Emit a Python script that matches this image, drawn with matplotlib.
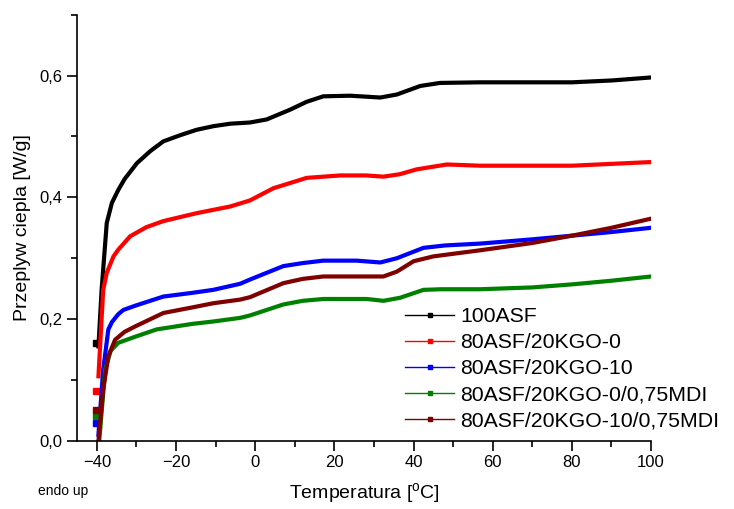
import matplotlib.pyplot as plt
from matplotlib.ticker import MultipleLocator, FuncFormatter

plt.rcParams["font.family"] = ["Liberation Sans", "DejaVu Sans"]

# DSC curves (temperature in degC, heat flow in W/g)
t_asf = [-40.2, -39.6, -38.8, -37.5, -36.2, -34.6, -33.0, -29.9, -26.5, -23.2, -19, -14.8, -10.5, -6.3, -1.3, 2.9, 8.8, 13, 17.2, 24, 31.6, 35.8, 41.7, 46.7, 56.8, 70, 80, 90, 100]
y_asf = [0.161, 0.155, 0.248, 0.358, 0.391, 0.412, 0.43, 0.456, 0.476, 0.492, 0.502, 0.511, 0.517, 0.521, 0.523, 0.528, 0.544, 0.557, 0.566, 0.567, 0.564, 0.569, 0.583, 0.588, 0.589, 0.589, 0.589, 0.592, 0.597]

t_kgo0 = [-40.2, -39.6, -38.4, -37.5, -35.8, -34.6, -31.6, -27.5, -23.2, -14.8, -6.3, -1.3, 4.6, 13, 21.5, 28, 32.4, 36.5, 40.8, 48.4, 56.8, 70, 80, 90, 100]
y_kgo0 = [0.081, 0.106, 0.248, 0.276, 0.303, 0.314, 0.336, 0.351, 0.361, 0.374, 0.385, 0.395, 0.415, 0.432, 0.436, 0.436, 0.434, 0.438, 0.446, 0.454, 0.452, 0.452, 0.452, 0.455, 0.458]

t_kgo10 = [-40.2, -39.6, -38.4, -37.1, -36.2, -34.6, -33.3, -30.3, -23.2, -16, -10.6, -3.8, -1.3, 7.1, 12, 17.2, 25.6, 31.6, 35.8, 42.5, 48, 56.8, 70, 80, 90, 100]
y_kgo10 = [0.029, 0.01, 0.117, 0.183, 0.195, 0.208, 0.215, 0.222, 0.237, 0.243, 0.248, 0.258, 0.265, 0.287, 0.292, 0.296, 0.296, 0.293, 0.300, 0.317, 0.321, 0.324, 0.331, 0.337, 0.343, 0.35]

t_kgo0_mdi = [-40.2, -39.4, -37.9, -36.5, -34.6, -30.3, -24.9, -16, -10.6, -3.8, -1.3, 7.1, 12, 17.2, 28.2, 32.4, 36.6, 42.5, 47, 56.8, 70, 80, 90, 100]
y_kgo0_mdi = [0.04, 0.0, 0.117, 0.148, 0.161, 0.171, 0.183, 0.192, 0.196, 0.202, 0.206, 0.224, 0.23, 0.233, 0.233, 0.230, 0.235, 0.248, 0.249, 0.249, 0.252, 0.257, 0.263, 0.27]

t_kgo10_mdi = [-40.2, -39.6, -38.4, -37.1, -35.4, -33, -30.3, -23.2, -16, -10.6, -3.8, -1.3, 7.1, 12, 17.2, 32.4, 35.8, 40, 45, 56.8, 70, 80, 90, 100]
y_kgo10_mdi = [0.051, 0.0, 0.084, 0.139, 0.166, 0.179, 0.188, 0.210, 0.219, 0.226, 0.232, 0.236, 0.259, 0.266, 0.270, 0.270, 0.278, 0.295, 0.303, 0.313, 0.325, 0.337, 0.35, 0.365]

labels = ["100ASF", "80ASF/20KGO-0", "80ASF/20KGO-10",
          "80ASF/20KGO-0/0,75MDI", "80ASF/20KGO-10/0,75MDI"]
series = [(t_asf, y_asf), (t_kgo0, y_kgo0), (t_kgo10, y_kgo10),
          (t_kgo0_mdi, y_kgo0_mdi), (t_kgo10_mdi, y_kgo10_mdi)]
colors = ["black", "red", "blue", "green", "#800000"]

fig = plt.figure(figsize=(7.34, 5.09), dpi=100)
ax = fig.add_axes([0.105, 0.134, 0.782, 0.837])

for (t, y), c, lab in zip(series, colors, labels):
    ax.plot(t[1:], y[1:], color=c, lw=3.0, solid_joinstyle="round")
    ax.plot(t[:1], y[:1], "s", color=c, ms=5)
    # legend proxy: thin line with small marker
    ax.plot([], [], color=c, lw=1.0, marker="s", ms=2.2, label=lab)

ax.set_xlim(-45, 100)
ax.set_ylim(0, 0.7)
ax.xaxis.set_major_locator(MultipleLocator(20))
ax.xaxis.set_minor_locator(MultipleLocator(10))
ax.yaxis.set_major_locator(MultipleLocator(0.2))
ax.yaxis.set_minor_locator(MultipleLocator(0.1))
ax.yaxis.set_major_formatter(FuncFormatter(lambda v, p: f"{v:.1f}".replace(".", ",")))
ax.tick_params(which="both", direction="out", width=1.2, labelsize=12)
ax.tick_params(which="major", length=7)
ax.tick_params(which="minor", length=4)
for s in ["top", "right"]:
    ax.spines[s].set_visible(False)
for s in ["left", "bottom"]:
    ax.spines[s].set_linewidth(1.2)

ax.set_xlabel("Temperatura [$^{\\mathregular{o}}$C]", fontsize=14, labelpad=8)
ax.set_ylabel("Przeplyw ciepla [W/g]", fontsize=14, labelpad=6)
fig.text(0.052, 0.027, "endo up", fontsize=10)

ax.legend(loc="lower left", bbox_to_anchor=(0.557, 0.005), frameon=False,
          fontsize=15.3, handlelength=2.3, handletextpad=0.3, labelspacing=0.33,
          borderaxespad=0)

fig.savefig("out.png", dpi=100)
